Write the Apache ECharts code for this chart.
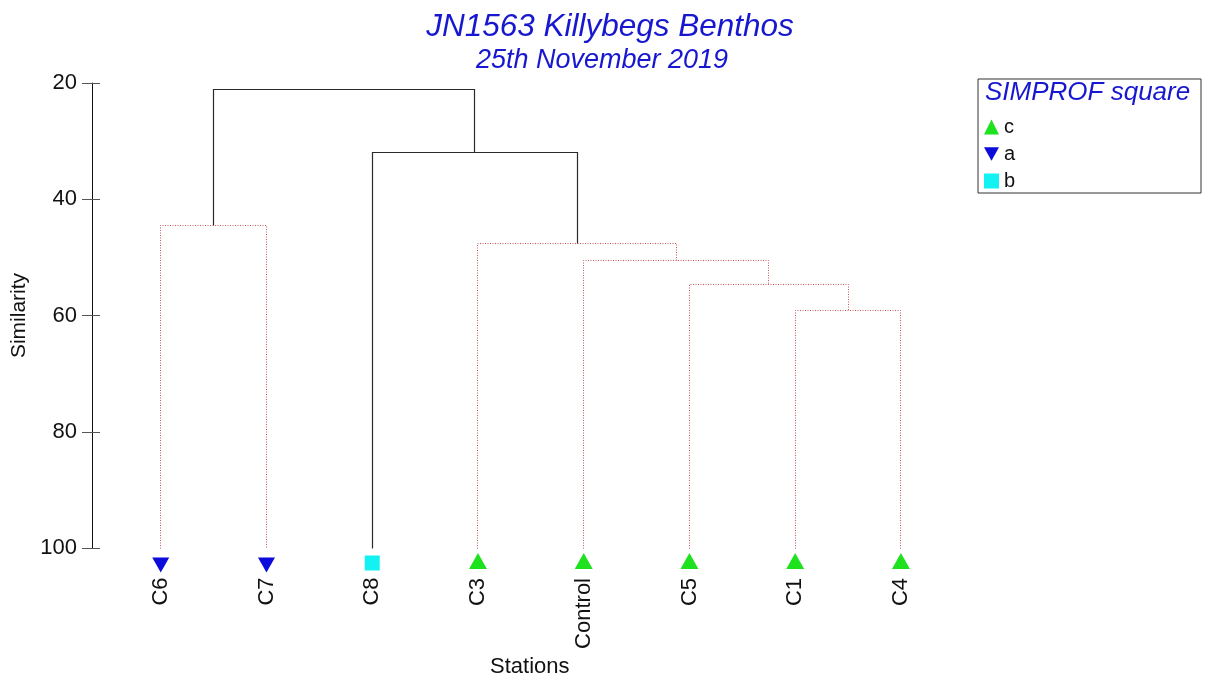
<!DOCTYPE html>
<html>
<head>
<meta charset="utf-8">
<script src="https://cdn.jsdelivr.net/npm/echarts@6/dist/echarts.min.js"></script>
<style>
  html, body { margin: 0; padding: 0; background: #fff; }
  #chart { width: 1205px; height: 684px; }
</style>
</head>
<body>
<div id="chart"></div>
<script>
// Stations in dendrogram leaf order, with their SIMPROF group
const leafNames = ['C6', 'C7', 'C8', 'C3', 'Control', 'C5', 'C1', 'C4'];
const leafGroups = ['a', 'a', 'b', 'c', 'c', 'c', 'c', 'c'];

// Agglomeration steps: node ids 0..7 are leaves, step k creates node 8 + k
const mergeLeft = [6, 5, 4, 3, 0, 2, 12];
const mergeRight = [7, 8, 9, 10, 1, 11, 13];
const mergeSimilarity = [59.1, 54.6, 50.5, 47.6, 44.5, 32.0, 21.2];
const mergeSignificant = [false, false, false, false, false, true, true];

// Similarity axis
const simMin = 20;
const simMax = 100;
const simStep = 20;

// Legend groups
const groupNames = ['c', 'a', 'b'];
const groupColors = { c: '#1ee21e', a: '#0b0bdc', b: '#12f2f2' };

const FONT = 'Arial, "Liberation Sans", sans-serif';

// Dendrogram layout: x of a node is the mean of its children, height is similarity
const nodeX = leafNames.map((_, i) => i);
const nodeY = leafNames.map(() => simMax);
const branchData = [];
mergeLeft.forEach((l, k) => {
  const r = mergeRight[k];
  const h = mergeSimilarity[k];
  branchData.push([nodeX[l], nodeY[l], nodeX[r], nodeY[r], h, mergeSignificant[k] ? 1 : 0]);
  nodeX.push((nodeX[l] + nodeX[r]) / 2);
  nodeY.push(h);
});

const DOWN_TRI = 'path://M0,0L10,0L5,9Z';
const groupSymbol = { c: 'triangle', a: DOWN_TRI, b: 'rect' };
const groupSize = { c: [18, 16], a: [17, 15], b: [15, 15] };
const groupOffset = { c: 13, a: 17, b: 15 };
const groupLabelDist = { c: 9, a: 5, b: 7 };

const crisp = v => Math.round(v - 0.5) + 0.5;

const leafSeries = groupNames.map(g => ({
  name: g,
  type: 'scatter',
  symbol: groupSymbol[g],
  symbolSize: groupSize[g],
  symbolOffset: [0, groupOffset[g]],
  itemStyle: { color: groupColors[g], opacity: 1 },
  data: leafNames
    .map((n, i) => ({ name: n, value: [i, simMax], g: leafGroups[i] }))
    .filter(d => d.g === g)
    .map(d => ({ name: d.name, value: d.value })),
  label: {
    show: true,
    formatter: p => p.name,
    position: 'bottom',
    distance: groupLabelDist[g],
    rotate: 90,
    align: 'right',
    verticalAlign: 'middle',
    color: '#111',
    fontSize: 22,
    fontFamily: FONT
  },
  emphasis: { disabled: true },
  z: 5
}));

const chart = echarts.init(document.getElementById('chart'), null, { renderer: 'canvas' });

chart.setOption({
  backgroundColor: '#ffffff',
  animation: false,
  title: [
    {
      text: 'JN1563 Killybegs Benthos',
      left: 605, top: 6, textAlign: 'center',
      textStyle: { color: '#1717cf', fontSize: 31.5, fontStyle: 'italic', fontWeight: 'normal', fontFamily: FONT }
    },
    {
      text: '25th November 2019',
      left: 597, top: 42, textAlign: 'center',
      textStyle: { color: '#1717cf', fontSize: 27, fontStyle: 'italic', fontWeight: 'normal', fontFamily: FONT }
    }
  ],
  grid: { left: 92, top: 83, width: 914.7, height: 465 },
  xAxis: {
    type: 'value', min: -0.65, max: 8,
    show: false
  },
  yAxis: [
    {
      type: 'value', inverse: true, min: simMin, max: simMax, interval: simStep,
      position: 'left',
      name: 'Similarity', nameLocation: 'middle', nameGap: 60, nameRotate: 90,
      nameTextStyle: { color: '#111', fontSize: 21, fontFamily: FONT },
      axisLine: { show: true, onZero: false, lineStyle: { color: '#111', width: 1 } },
      axisTick: { show: true, length: 10, lineStyle: { color: '#555', width: 1 } },
      axisLabel: { color: '#111', fontSize: 22, fontFamily: FONT, margin: 15 },
      splitLine: { show: false }
    },
    {
      type: 'value', inverse: true, min: simMin, max: simMax, interval: simStep,
      position: 'left', offset: 0,
      axisLine: { show: false, onZero: false },
      axisTick: { show: true, inside: true, length: 8, lineStyle: { color: '#555', width: 1 } },
      axisLabel: { show: false },
      splitLine: { show: false }
    }
  ],
  legend: {
    orient: 'vertical',
    left: 984, top: 117,
    padding: 0,
    itemWidth: 15, itemHeight: 15, itemGap: 7,
    textStyle: { color: '#111', fontSize: 20, fontFamily: FONT },
    data: [
      { name: 'c', icon: 'triangle' },
      { name: 'a', icon: DOWN_TRI },
      { name: 'b', icon: 'rect' }
    ],
    selectedMode: false
  },
  graphic: [
    {
      type: 'rect', left: 977.5, top: 78.5,
      shape: { width: 223, height: 114 },
      style: { fill: '#fff', stroke: '#333', lineWidth: 1 },
      z: -1
    },
    {
      type: 'text', left: 985, top: 80,
      style: { text: 'SIMPROF square', fill: '#1717cf', font: 'italic 26px ' + FONT }
    },
    {
      type: 'text', left: 490, top: 656,
      style: { text: 'Stations', fill: '#111', font: '22px ' + FONT }
    }
  ],
  series: [
    {
      type: 'custom',
      name: 'branches',
      encode: { x: [0, 2], y: [1, 3, 4] },
      data: branchData,
      silent: true,
      z: 3,
      renderItem: (params, api) => {
        const xl = api.value(0), yl = api.value(1);
        const xr = api.value(2), yr = api.value(3);
        const h = api.value(4);
        const sig = api.value(5) === 1;
        const pts = [[xl, yl], [xl, h], [xr, h], [xr, yr]]
          .map(p => api.coord(p))
          .map(p => [crisp(p[0]), crisp(p[1])]);
        return {
          type: 'polyline',
          shape: { points: pts },
          style: sig
            ? { stroke: '#2a2a2a', lineWidth: 1.2, fill: null }
            : { stroke: '#c65a5a', lineWidth: 1, lineDash: [1, 1.5], fill: null }
        };
      }
    },
    ...leafSeries
  ]
});
</script>
</body>
</html>
